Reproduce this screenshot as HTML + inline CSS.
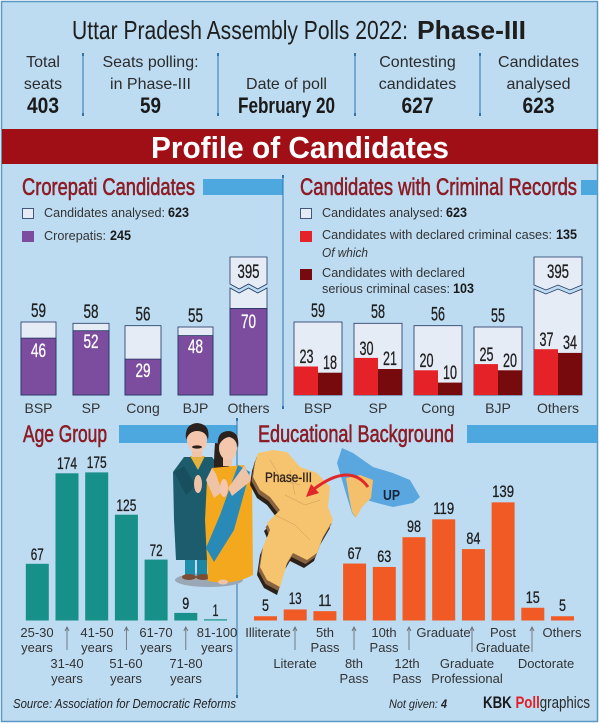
<!DOCTYPE html>
<html><head><meta charset="utf-8"><style>
html,body{margin:0;padding:0;background:#fff;}
svg{display:block;}
.s{font-family:"Liberation Sans",sans-serif;}
.n{font-family:"Liberation Sans Narrow","Liberation Sans",sans-serif;}
</style></head><body>
<svg width="600" height="724" viewBox="0 0 600 724" xmlns="http://www.w3.org/2000/svg">
<rect width="600" height="724" fill="#fff"/>
<rect x="1.5" y="1.5" width="596" height="720" fill="#bddcf2" stroke="#5b97c4" stroke-width="1.5"/>

<!-- Header -->
<text class="n" x="72" y="39" font-size="26" fill="#1e1e1e" textLength="336" lengthAdjust="spacingAndGlyphs">Uttar Pradesh Assembly Polls 2022:</text>
<text class="n" x="417" y="39" font-size="26" font-weight="bold" fill="#1e1e1e" textLength="109" lengthAdjust="spacingAndGlyphs">Phase-III</text>

<g class="s" font-size="16" fill="#2b2b2b" text-anchor="middle">
<text x="43" y="67">Total</text><text x="43" y="89">seats</text>
<text x="150.5" y="67">Seats polling:</text><text x="150.5" y="89">in Phase-III</text>
<text x="286.5" y="89">Date of poll</text>
<text x="417.5" y="67">Contesting</text><text x="417.5" y="89">candidates</text>
<text x="538.5" y="67">Candidates</text><text x="538.5" y="89">analysed</text>
</g>
<g class="n" font-size="22" font-weight="bold" fill="#1a1a1a" text-anchor="middle">
<text x="43" y="113" textLength="32" lengthAdjust="spacingAndGlyphs">403</text>
<text x="150.5" y="113" textLength="21" lengthAdjust="spacingAndGlyphs">59</text>
<text x="286.5" y="113" textLength="97" lengthAdjust="spacingAndGlyphs">February 20</text>
<text x="417.5" y="113" textLength="32" lengthAdjust="spacingAndGlyphs">627</text>
<text x="538.5" y="113" textLength="32" lengthAdjust="spacingAndGlyphs">623</text>
</g>
<g stroke="#2f74ad" stroke-width="1">
<line x1="83" y1="54" x2="83" y2="115"/><line x1="218" y1="54" x2="218" y2="115"/>
<line x1="355" y1="54" x2="355" y2="115"/><line x1="480" y1="54" x2="480" y2="115"/>
</g>
<g fill="#2f74ad">
<rect x="82" y="53" width="2" height="3"/><rect x="82" y="113" width="2" height="3"/>
<rect x="217" y="53" width="2" height="3"/><rect x="217" y="113" width="2" height="3"/>
<rect x="354" y="53" width="2" height="3"/><rect x="354" y="113" width="2" height="3"/>
<rect x="479" y="53" width="2" height="3"/><rect x="479" y="113" width="2" height="3"/>
</g>

<!-- Red band -->
<rect x="2" y="129" width="596" height="35" fill="#a00e16"/>
<text class="n" x="300" y="158" font-size="31" font-weight="bold" fill="#fff" text-anchor="middle" textLength="298" lengthAdjust="spacingAndGlyphs">Profile of Candidates</text>

<!-- Section titles -->
<g class="n" font-size="24" fill="#8c1c25" stroke="#8c1c25" stroke-width="0.6">
<text x="22" y="195" textLength="173" lengthAdjust="spacingAndGlyphs">Crorepati Candidates</text>
<text x="300" y="195" textLength="277" lengthAdjust="spacingAndGlyphs">Candidates with Criminal Records</text>
<text x="23" y="442" textLength="84" lengthAdjust="spacingAndGlyphs">Age Group</text>
<text x="258" y="442" textLength="196" lengthAdjust="spacingAndGlyphs">Educational Background</text>
</g>
<g fill="#4ea8e0">
<rect x="203" y="179" width="80" height="16"/>
<rect x="581" y="180" width="16" height="15"/>
<rect x="119" y="425" width="118" height="18"/>
<rect x="467" y="425" width="130" height="18"/>
</g>

<!-- Dividers -->
<g stroke="#2f74ad" stroke-width="1">
<line x1="283" y1="176" x2="283" y2="408"/>
<line x1="237" y1="419" x2="237" y2="697"/>
</g>
<g fill="#2f74ad">
<rect x="282" y="175" width="2" height="3"/><rect x="282" y="406" width="2" height="3"/>
<rect x="236" y="418" width="2" height="3"/><rect x="236" y="695" width="2" height="3"/>
</g>

<!-- Crorepati legend -->
<rect x="22.5" y="208.5" width="11" height="10" fill="#e6ecf6" stroke="#1f3560" stroke-width="0.8"/>
<rect x="22" y="231" width="12" height="11" fill="#7c4d9f"/>
<g class="s" font-size="13" fill="#333">
<text x="44" y="217" textLength="121" lengthAdjust="spacingAndGlyphs">Candidates analysed:</text>
<text x="44" y="240" textLength="62" lengthAdjust="spacingAndGlyphs">Crorepatis:</text>
</g>
<g class="n" font-size="14" font-weight="bold" fill="#1a1a1a">
<text x="168" y="217" textLength="21" lengthAdjust="spacingAndGlyphs">623</text>
<text x="110" y="240" textLength="21" lengthAdjust="spacingAndGlyphs">245</text>
</g>

<!-- Crorepati bars -->
<g stroke="#1f3560" stroke-width="0.8">
<rect x="21" y="322" width="35" height="73" fill="#e6ecf6"/>
<rect x="21" y="338.1" width="35" height="56.9" fill="#7c4d9f"/>
<rect x="73" y="323.3" width="36" height="71.7" fill="#e6ecf6"/>
<rect x="73" y="330.7" width="36" height="64.3" fill="#7c4d9f"/>
<rect x="125" y="325.7" width="36" height="69.3" fill="#e6ecf6"/>
<rect x="125" y="359.1" width="36" height="35.9" fill="#7c4d9f"/>
<rect x="178" y="327" width="35" height="68" fill="#e6ecf6"/>
<rect x="178" y="335.6" width="35" height="59.4" fill="#7c4d9f"/>
<path d="M230,257 H267 V284 L257.75,289 L248.5,284 L239.25,289 L230,284 Z" fill="#e6ecf6"/>
<path d="M230,288 L239.25,293 L248.5,288 L257.75,293 L267,288 V395 H230 Z" fill="#e6ecf6"/>
<rect x="230" y="308.4" width="37" height="86.6" fill="#7c4d9f"/>
</g>
<g class="n" font-size="19" fill="#1e1e1e" stroke="#1e1e1e" stroke-width="0.3" text-anchor="middle">
<text x="38.5" y="317" textLength="15" lengthAdjust="spacingAndGlyphs">59</text>
<text x="91" y="318" textLength="15" lengthAdjust="spacingAndGlyphs">58</text>
<text x="143" y="320.5" textLength="15" lengthAdjust="spacingAndGlyphs">56</text>
<text x="195.5" y="322" textLength="15" lengthAdjust="spacingAndGlyphs">55</text>
<text x="248.5" y="278" textLength="22" lengthAdjust="spacingAndGlyphs">395</text>
</g>
<g class="n" font-size="19" fill="#fff" stroke="#fff" stroke-width="0.3" text-anchor="middle">
<text x="38.5" y="357" textLength="15" lengthAdjust="spacingAndGlyphs">46</text>
<text x="91" y="348" textLength="15" lengthAdjust="spacingAndGlyphs">52</text>
<text x="143" y="377" textLength="15" lengthAdjust="spacingAndGlyphs">29</text>
<text x="195.5" y="353" textLength="15" lengthAdjust="spacingAndGlyphs">48</text>
<text x="248.5" y="328" textLength="15" lengthAdjust="spacingAndGlyphs">70</text>
</g>
<g class="s" font-size="14" fill="#333" text-anchor="middle">
<text x="38.5" y="413">BSP</text><text x="91" y="413">SP</text><text x="143" y="413">Cong</text>
<text x="195.5" y="413">BJP</text><text x="248.5" y="413">Others</text>
</g>

<!-- Criminal legend -->
<rect x="300.5" y="208.5" width="11" height="10" fill="#e6ecf6" stroke="#1f3560" stroke-width="0.8"/>
<rect x="300" y="231" width="12" height="11" fill="#e52228"/>
<rect x="300" y="269" width="12" height="11" fill="#770a0d"/>
<g class="s" font-size="13" fill="#333">
<text x="322" y="217" textLength="121" lengthAdjust="spacingAndGlyphs">Candidates analysed:</text>
<text x="322" y="239" textLength="230" lengthAdjust="spacingAndGlyphs">Candidates with declared criminal cases:</text>
<text x="322" y="257" font-style="italic" textLength="46" lengthAdjust="spacingAndGlyphs">Of which</text>
<text x="322" y="277" textLength="143" lengthAdjust="spacingAndGlyphs">Candidates with declared</text>
<text x="322" y="293" textLength="128" lengthAdjust="spacingAndGlyphs">serious criminal cases:</text>
</g>
<g class="n" font-size="14" font-weight="bold" fill="#1a1a1a">
<text x="446" y="217" textLength="21" lengthAdjust="spacingAndGlyphs">623</text>
<text x="556" y="239" textLength="21" lengthAdjust="spacingAndGlyphs">135</text>
<text x="453" y="293" textLength="21" lengthAdjust="spacingAndGlyphs">103</text>
</g>

<!-- Criminal bars -->
<g stroke="#1f3560" stroke-width="0.8" fill="#e6ecf6">
<rect x="294" y="322" width="48" height="73"/>
<rect x="354" y="323.3" width="48" height="71.7"/>
<rect x="414" y="325.7" width="48" height="69.3"/>
<rect x="474" y="327" width="48" height="68"/>
<path d="M534,257 H582 V285 L570,290 L558,285 L546,290 L534,285 Z"/>
<path d="M534,289 L546,294 L558,289 L570,294 L582,289 V395 H534 Z"/>
</g>
<g fill="#e52228">
<rect x="294" y="366.5" width="24" height="28.5"/>
<rect x="354" y="357.9" width="24" height="37.1"/>
<rect x="414" y="370.3" width="24" height="24.7"/>
<rect x="474" y="364.1" width="24" height="30.9"/>
<rect x="534" y="349.2" width="24" height="45.8"/>
</g>
<g fill="#770a0d">
<rect x="318" y="372.7" width="24" height="22.3"/>
<rect x="378" y="369" width="24" height="26"/>
<rect x="438" y="382.6" width="24" height="12.4"/>
<rect x="498" y="370.3" width="24" height="24.7"/>
<rect x="558" y="352.9" width="24" height="42.1"/>
</g>
<g class="n" font-size="19" fill="#1e1e1e" stroke="#1e1e1e" stroke-width="0.3" text-anchor="middle">
<text x="318" y="317" textLength="14" lengthAdjust="spacingAndGlyphs">59</text>
<text x="378" y="318" textLength="14" lengthAdjust="spacingAndGlyphs">58</text>
<text x="438" y="320.5" textLength="14" lengthAdjust="spacingAndGlyphs">56</text>
<text x="498" y="322" textLength="14" lengthAdjust="spacingAndGlyphs">55</text>
<text x="558" y="278" textLength="22" lengthAdjust="spacingAndGlyphs">395</text>
<text x="306.5" y="363" textLength="14" lengthAdjust="spacingAndGlyphs">23</text>
<text x="330" y="369" textLength="14" lengthAdjust="spacingAndGlyphs">18</text>
<text x="366.5" y="355" textLength="14" lengthAdjust="spacingAndGlyphs">30</text>
<text x="390" y="365" textLength="14" lengthAdjust="spacingAndGlyphs">21</text>
<text x="426.5" y="367" textLength="14" lengthAdjust="spacingAndGlyphs">20</text>
<text x="450" y="379" textLength="14" lengthAdjust="spacingAndGlyphs">10</text>
<text x="486.5" y="361" textLength="14" lengthAdjust="spacingAndGlyphs">25</text>
<text x="510" y="367" textLength="14" lengthAdjust="spacingAndGlyphs">20</text>
<text x="546.5" y="346" textLength="14" lengthAdjust="spacingAndGlyphs">37</text>
<text x="570" y="349" textLength="14" lengthAdjust="spacingAndGlyphs">34</text>
</g>
<g class="s" font-size="14" fill="#333" text-anchor="middle">
<text x="318" y="413">BSP</text><text x="378" y="413">SP</text><text x="438" y="413">Cong</text>
<text x="498" y="413">BJP</text><text x="558" y="413">Others</text>
</g>

<!-- Age bars -->
<g fill="#17908a">
<rect x="25.8" y="563.8" width="23" height="56.7"/>
<rect x="55.5" y="473.3" width="23" height="147.2"/>
<rect x="85.2" y="472.4" width="23" height="148.1"/>
<rect x="114.9" y="514.7" width="23" height="105.8"/>
<rect x="144.6" y="559.6" width="23" height="60.9"/>
<rect x="174.3" y="612.9" width="23" height="7.6"/>
<rect x="204" y="619.3" width="23" height="1.2"/>
</g>
<g class="n" font-size="17" fill="#1e1e1e" stroke="#1e1e1e" stroke-width="0.3" text-anchor="middle">
<text x="37.3" y="560" textLength="13" lengthAdjust="spacingAndGlyphs">67</text>
<text x="67" y="469" textLength="20" lengthAdjust="spacingAndGlyphs">174</text>
<text x="96.7" y="468" textLength="20" lengthAdjust="spacingAndGlyphs">175</text>
<text x="126.4" y="511" textLength="20" lengthAdjust="spacingAndGlyphs">125</text>
<text x="156.1" y="556" textLength="13" lengthAdjust="spacingAndGlyphs">72</text>
<text x="185.8" y="609" textLength="7" lengthAdjust="spacingAndGlyphs">9</text>
<text x="215.5" y="616" textLength="6" lengthAdjust="spacingAndGlyphs">1</text>
</g>
<g class="s" font-size="13" fill="#333" text-anchor="middle">
<text x="37" y="637">25-30</text><text x="37" y="652">years</text>
<text x="97" y="637">41-50</text><text x="97" y="652">years</text>
<text x="156" y="637">61-70</text><text x="156" y="652">years</text>
<text x="217" y="637">81-100</text><text x="217" y="652">years</text>
<text x="67" y="668">31-40</text><text x="67" y="683">years</text>
<text x="126" y="668">51-60</text><text x="126" y="683">years</text>
<text x="186" y="668">71-80</text><text x="186" y="683">years</text>
</g>
<g stroke="#6b6f75" stroke-width="0.9" fill="none">
<path d="M67,650 V627 M65,631 L67,627 L69,631"/>
<path d="M126.4,650 V627 M124.4,631 L126.4,627 L128.4,631"/>
<path d="M185.8,650 V627 M183.8,631 L185.8,627 L187.8,631"/>
</g>

<!-- Illustration: couple -->
<ellipse cx="209" cy="580" rx="34" ry="7" fill="#9aa7b5"/>
<rect x="185" y="553" width="10" height="22" fill="#1f8fae"/>
<rect x="197" y="553" width="10" height="22" fill="#1c86a3"/>
<ellipse cx="189" cy="577" rx="7" ry="3" fill="#7a4e34"/>
<ellipse cx="203" cy="577" rx="7" ry="3" fill="#7a4e34"/>
<path d="M184,457 L212,457 L219,466 L218,500 L214,560 L176,560 L174,520 L173,472 Z" fill="#1c5c6d"/>
<path d="M190,456 L198,470 L205,456 Z" fill="#e4b23c"/>
<rect x="192" y="448" width="10" height="9" fill="#efc3a6"/>
<ellipse cx="197" cy="440" rx="10" ry="12" fill="#f4c7ad"/>
<path d="M186,440 Q184,424 197,423 Q211,424 208,440 Q206,431 197,431 Q189,431 186,440 Z" fill="#2b211d"/>
<ellipse cx="197" cy="447" rx="5" ry="1.6" fill="#2b211d"/>
<path d="M174,472 L186,495 L196,486 L184,466 Z" fill="#174f5e"/>
<ellipse cx="198" cy="484" rx="4" ry="9" fill="#efc3a6"/>

<path d="M215,443 Q212,480 218,505 L226,505 Q224,470 237,445 Z" fill="#2b211d"/>
<path d="M212,468 L244,465 L252,480 L253,575 Q232,586 208,581 L205,520 L207,480 Z" fill="#f4a81d"/>
<path d="M238,465 L250,472 L234,530 L214,562 L206,548 L220,515 Z" fill="#2a8ab7"/>
<path d="M212,468 L206,480 L214,498 L222,492 L216,474 Z" fill="#efc3a6"/>
<path d="M244,466 L252,480 L232,496 L228,488 Z" fill="#efc3a6"/>
<ellipse cx="224" cy="488" rx="4" ry="9" fill="#f4c7ad"/>
<rect x="223" y="453" width="9" height="13" fill="#efc3a6"/>
<ellipse cx="228" cy="448" rx="9" ry="12" fill="#f4c7ad"/>
<path d="M218,447 Q216,431 229,431 Q240,432 238,448 Q236,438 229,437 Q222,438 218,447 Z" fill="#2b211d"/>
<ellipse cx="223" cy="582" rx="5" ry="2.5" fill="#efc3a6"/>

<!-- Maps -->
<polygon points="255,461 270,458 284,460 297,475 314,481 327,495 325,515 330,528 320,545 314,561 304,568 290,561 284,571 280,585 277,595 264,588 257,575 260,555 267,538 264,531 270,525 277,518 267,505 257,498 250,485 252,471" fill="#2b2119"/>
<polygon points="256.5,457 271.5,454 285.5,456 298.5,471 315.5,477 328.5,491 326.5,511 331.5,524 321.5,541 315.5,557 305.5,564 291.5,557 285.5,567 281.5,581 278.5,591 265.5,584 258.5,571 261.5,551 268.5,534 265.5,527 271.5,521 278.5,514 268.5,501 258.5,494 251.5,481 253.5,467" fill="#8a6440"/>
<polygon points="258,453 273,450 287,452 300,467 317,473 330,487 328,507 333,520 323,537 317,553 307,560 293,553 287,563 283,577 280,587 267,580 260,567 263,547 270,530 267,523 273,517 280,510 270,497 260,490 253,477 255,463" fill="#f6c46e"/>
<g stroke="#c99a5a" stroke-width="0.5" fill="none">
<path d="M270,460 L282,480 L300,485 M285,495 L305,505 L320,500 M275,515 L295,525 L310,540 M290,470 L295,495"/>
</g>
<text class="n" x="265" y="482" font-size="14" fill="#2b2119" stroke="#2b2119" stroke-width="0.3" textLength="47" lengthAdjust="spacingAndGlyphs">Phase-III</text>

<polygon points="342,448 353,453 373,467 393,473 410,480 420,497 413,503 393,507 377,503 367,500 360,510 355,517 352,513 347,497 342,480 337,463" fill="#5aa6de"/>
<polygon points="346,478 360,475 373,480 371,498 362,507 356,518 352,512 349,497" fill="#f4c06b"/>
<text class="n" x="383" y="500" font-size="15" font-weight="bold" fill="#17243b" textLength="17" lengthAdjust="spacingAndGlyphs">UP</text>
<path d="M368,487 Q350,462 314,489" stroke="#e0272c" stroke-width="3" fill="none"/>
<polygon points="306,497 319,493 311,484" fill="#e0272c"/>

<!-- Education bars -->
<g fill="#f15a24">
<rect x="254" y="616.25" width="23" height="4.25"/>
<rect x="283.7" y="609.45" width="23" height="11.05"/>
<rect x="313.4" y="611.15" width="23" height="9.35"/>
<rect x="343.1" y="563.55" width="23" height="56.95"/>
<rect x="372.8" y="566.95" width="23" height="53.55"/>
<rect x="402.5" y="537.2" width="23" height="83.3"/>
<rect x="432.2" y="519.35" width="23" height="101.15"/>
<rect x="461.9" y="549.1" width="23" height="71.4"/>
<rect x="491.6" y="502.35" width="23" height="118.15"/>
<rect x="521.3" y="607.75" width="23" height="12.75"/>
<rect x="551" y="616.25" width="23" height="4.25"/>
</g>
<g class="n" font-size="17" fill="#1e1e1e" stroke="#1e1e1e" stroke-width="0.3" text-anchor="middle">
<text x="265.5" y="611" textLength="7" lengthAdjust="spacingAndGlyphs">5</text>
<text x="295.2" y="604" textLength="13" lengthAdjust="spacingAndGlyphs">13</text>
<text x="324.9" y="606" textLength="13" lengthAdjust="spacingAndGlyphs">11</text>
<text x="354.6" y="559" textLength="14" lengthAdjust="spacingAndGlyphs">67</text>
<text x="384.3" y="562" textLength="14" lengthAdjust="spacingAndGlyphs">63</text>
<text x="414" y="532" textLength="14" lengthAdjust="spacingAndGlyphs">98</text>
<text x="443.7" y="514" textLength="21" lengthAdjust="spacingAndGlyphs">119</text>
<text x="473.4" y="544" textLength="14" lengthAdjust="spacingAndGlyphs">84</text>
<text x="503.1" y="497" textLength="22" lengthAdjust="spacingAndGlyphs">139</text>
<text x="532.8" y="603" textLength="14" lengthAdjust="spacingAndGlyphs">15</text>
<text x="562.5" y="611" textLength="7" lengthAdjust="spacingAndGlyphs">5</text>
</g>
<g class="s" font-size="13" fill="#333" text-anchor="middle">
<text x="268" y="637">Illiterate</text>
<text x="325" y="637">5th</text><text x="325" y="652">Pass</text>
<text x="384" y="637">10th</text><text x="384" y="652">Pass</text>
<text x="443.5" y="637">Graduate</text>
<text x="503" y="637">Post</text><text x="503" y="652">Graduate</text>
<text x="562" y="637">Others</text>
<text x="295" y="668">Literate</text>
<text x="354" y="668">8th</text><text x="354" y="683">Pass</text>
<text x="407" y="668">12th</text><text x="407" y="683">Pass</text>
<text x="467" y="668">Graduate</text><text x="467" y="683">Professional</text>
<text x="546" y="668">Doctorate</text>
</g>
<g stroke="#6b6f75" stroke-width="0.9" fill="none">
<path d="M295,650 V627 M293,631 L295,627 L297,631"/>
<path d="M354,650 V627 M352,631 L354,627 L356,631"/>
<path d="M409,650 V627 M407,631 L409,627 L411,631"/>
<path d="M472,652 V627 M470,631 L472,627 L474,631"/>
<path d="M532,652 V627 M530,631 L532,627 L534,631"/>
</g>

<!-- Footer -->
<text class="n" x="13" y="708" font-size="13" font-style="italic" fill="#222" textLength="223" lengthAdjust="spacingAndGlyphs">Source: Association for Democratic Reforms</text>
<text class="s" x="389" y="708" font-size="12" font-style="italic" fill="#222" textLength="58" lengthAdjust="spacingAndGlyphs">Not given: <tspan font-weight="bold">4</tspan></text>
<text class="n" x="483" y="708" font-size="17" fill="#2a2a2a" textLength="107" lengthAdjust="spacingAndGlyphs"><tspan font-weight="bold" fill="#1a1a1a">KBK </tspan><tspan font-weight="bold" fill="#e31e24">Poll</tspan>graphics</text>
</svg>
</body></html>
